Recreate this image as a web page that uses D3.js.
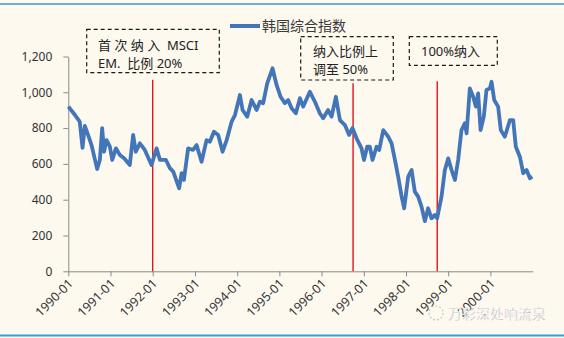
<!DOCTYPE html>
<html>
<head>
<meta charset="utf-8">
<script src="https://cdn.jsdelivr.net/npm/d3@7/dist/d3.min.js"></script>
<style>
  html, body { margin: 0; padding: 0; background: #fdf9ef; }
  svg { display: block; }
  text { font-family: "Noto Sans", "Noto Sans CJK SC", sans-serif; }
</style>
</head>
<body>
<svg id="chart" width="564" height="338"></svg>
<script>
// KOSPI composite index, 1990–2000
const seriesName = "韩国综合指数";
const dates = [
  "1990-01-02","1990-02-28","1990-04-10","1990-05-04","1990-05-24","1990-06-21","1990-07-21","1990-09-08",
  "1990-10-01","1990-10-21","1990-11-07","1990-11-28","1990-12-27","1991-01-16","1991-02-17","1991-03-23",
  "1991-04-29","1991-06-17","1991-07-16","1991-08-08","1991-09-12","1991-10-25","1991-12-22","1992-02-04",
  "1992-03-04","1992-04-25","1992-05-29","1992-06-27","1992-08-17","1992-09-07","1992-09-27","1992-11-03",
  "1992-12-16","1993-01-15","1993-02-27","1993-04-11","1993-05-10","1993-06-14","1993-07-21","1993-08-28",
  "1993-10-02","1993-11-14","1993-12-13","1994-01-25","1994-02-17","1994-03-29","1994-05-06","1994-06-18",
  "1994-07-17","1994-08-14","1994-09-18","1994-11-03","1994-12-08","1995-01-12","1995-02-18","1995-03-18",
  "1995-04-17","1995-05-24","1995-06-28","1995-07-26","1995-09-22","1995-11-04","1995-12-17","1996-01-15",
  "1996-02-27","1996-03-28","1996-05-04","1996-06-08","1996-07-21","1996-08-27","1996-09-25","1996-10-30",
  "1996-12-12","1997-01-02","1997-01-30","1997-02-22","1997-03-17","1997-04-21","1997-05-14","1997-06-18",
  "1997-07-31","1997-08-29","1997-09-27","1997-10-25","1997-11-24","1997-12-16","1998-01-20","1998-02-18",
  "1998-03-18","1998-04-16","1998-05-15","1998-06-13","1998-07-11","1998-08-10","1998-09-08","1998-09-27",
  "1998-11-04","1998-12-03","1999-01-01","1999-01-30","1999-02-28","1999-03-28","1999-04-26","1999-05-25",
  "1999-06-09","1999-07-07","1999-08-05","1999-08-28","1999-09-17","1999-10-08","1999-11-05","1999-11-28",
  "1999-12-27","2000-01-11","2000-02-03","2000-03-08","2000-03-31","2000-05-05","2000-06-18","2000-07-16",
  "2000-08-08","2000-09-12","2000-10-11","2000-11-09","2000-12-08","2000-12-28"
];
const values = [
  920, 873, 836, 690, 812, 762, 705, 571,
  622, 800, 668, 733, 696, 622, 687, 650,
  631, 594, 762, 668, 715, 678, 594, 687,
  622, 622, 576, 557, 464, 548, 510, 687,
  678, 705, 612, 733, 724, 780, 762, 668,
  733, 836, 873, 985, 901, 864, 957, 901,
  948, 939, 1050, 1134, 1041, 975, 939, 957,
  911, 883, 967, 920, 1003, 948, 883, 855,
  901, 864, 975, 845, 817, 762, 800, 743,
  687, 622, 696, 696, 622, 696, 678, 789,
  752, 715, 622, 529, 417, 352, 529, 566,
  445, 417, 361, 280, 352, 296, 315, 296,
  417, 566, 631, 566, 510, 622, 789, 827,
  771, 1022, 975, 920, 994, 789, 864, 1013,
  1022, 1059, 957, 920, 789, 752, 845, 845,
  696, 640, 548, 566, 520, 529
];

// x-axis tick labels and y-axis ticks
const xTickLabels = ["1990-01","1991-01","1992-01","1993-01","1994-01","1995-01",
                     "1996-01","1997-01","1998-01","1999-01","2000-01"];
const yTicks = [0, 200, 400, 600, 800, 1000, 1200];

// MSCI EM inclusion events: date, height of the marker line, note lines
const eventDates = ["1992-01-01", "1996-09-30", "1998-09-28"];
const eventTops = [1070, 1050, 1062];
const eventNotes = [
  ["首 次 纳 入  MSCI", "EM.  比例 20%"],
  ["纳入比例上", "调至 50%"],
  ["100%纳入"]
];

const parse = d3.timeParse("%Y-%m-%d");
const series = dates.map((d, i) => ({ date: parse(d), value: values[i] }));

const svg = d3.select("#chart");
const W = 564, H = 338;
const plotLeft = 68.3, plotRight = 532.7, plotTop = 56.5, plotBottom = 271.3;

const x = d3.scaleTime()
  .domain([parse("1990-01-01"), parse("2001-01-01")])
  .range([plotLeft, plotRight]);
const y = d3.scaleLinear().domain([0, 1200]).range([plotBottom, plotTop]);

// background and page rules
svg.append("rect").attr("width", W).attr("height", H).attr("fill", "#fdf9ef");
svg.append("line").attr("x1", 0).attr("x2", W).attr("y1", 4).attr("y2", 4)
  .attr("stroke", "#3b93d3").attr("stroke-width", 1.5);
svg.append("line").attr("x1", 0).attr("x2", W).attr("y1", 335.5).attr("y2", 335.5)
  .attr("stroke", "#2ea3d8").attr("stroke-width", 2);

// y axis
const yAxis = d3.axisLeft(y).tickValues(yTicks).tickFormat(d3.format(","))
  .tickSize(5).tickSizeOuter(0).tickPadding(11);
const gy = svg.append("g").attr("transform", `translate(${plotLeft},0)`).call(yAxis);
gy.select(".domain").attr("stroke", "#8a8a8a");
gy.selectAll(".tick line").attr("stroke", "#8a8a8a");
gy.selectAll(".tick text").attr("font-size", 12).attr("fill", "#333")
  .attr("font-family", "'Noto Sans', sans-serif");

// x axis
const xTickDates = xTickLabels.map(s => parse(s + "-01"));
const xAxis = d3.axisBottom(x).tickValues(xTickDates)
  .tickFormat((d, i) => xTickLabels[i]).tickSize(5).tickSizeOuter(0);
const gx = svg.append("g").attr("transform", `translate(0,${plotBottom})`).call(xAxis);
gx.select(".domain").attr("stroke", "#8a8a8a");
gx.selectAll(".tick line").attr("stroke", "#8a8a8a");
gx.selectAll(".tick text")
  .attr("font-size", 12.5).attr("fill", "#333")
  .attr("font-family", "'Noto Sans', sans-serif")
  .attr("text-anchor", "end")
  .attr("dy", null).attr("y", 0)
  .attr("transform", "translate(5,13) rotate(-45)");

// event marker lines
const events = eventDates.map((d, i) => ({ date: parse(d), top: eventTops[i], notes: eventNotes[i] }));
svg.selectAll(".event").data(events).join("line")
  .attr("class", "event")
  .attr("x1", d => x(d.date)).attr("x2", d => x(d.date))
  .attr("y1", d => y(d.top)).attr("y2", y(0))
  .attr("stroke", "#e2131b").attr("stroke-width", 1.4);

// index line
const line = d3.line().x(d => x(d.date)).y(d => y(d.value)).curve(d3.curveLinear);
svg.append("path").datum(series)
  .attr("d", line)
  .attr("fill", "none")
  .attr("stroke", "#4376b9")
  .attr("stroke-width", 3.8)
  .attr("stroke-linejoin", "round");

// legend
svg.append("line").attr("x1", 230).attr("x2", 260).attr("y1", 26).attr("y2", 26)
  .attr("stroke", "#4376b9").attr("stroke-width", 4);
svg.append("text").attr("x", 262).attr("y", 31)
  .attr("font-size", 14).attr("fill", "#3a3a3a")
  .attr("font-family", "'Noto Sans CJK SC', sans-serif")
  .text(seriesName);

// dashed note boxes
const boxes = [
  { x: 86.7, y: 29.3, w: 132.6, h: 43.4, tx: 98, ty: [50, 68] },
  { x: 300.7, y: 36.7, w: 92.6, h: 43.3, tx: 313, ty: [56, 74] },
  { x: 409.3, y: 36.7, w: 88, h: 28.6, tx: 421, ty: [56] }
];
boxes.forEach((b, i) => {
  svg.append("rect").attr("x", b.x).attr("y", b.y).attr("width", b.w).attr("height", b.h)
    .attr("fill", "none").attr("stroke", "#1a1a1a").attr("stroke-width", 1.2)
    .attr("stroke-dasharray", "4,3");
  events[i].notes.forEach((t, j) => {
    svg.append("text").attr("x", b.tx).attr("y", b.ty[j])
      .attr("font-size", 13).attr("fill", "#222")
      .attr("font-family", "'Noto Sans', 'Noto Sans CJK SC', sans-serif")
      .style("white-space", "pre")
      .text(t);
  });
});

// account mark in the lower right
svg.append("circle").attr("cx", 436).attr("cy", 313).attr("r", 7)
  .attr("fill", "none").attr("stroke", "#c8c8c8").attr("stroke-width", 1.2)
  .attr("stroke-dasharray", "2,2");
svg.append("text").attr("x", 448).attr("y", 318.5)
  .attr("font-size", 14).attr("fill", "#b0b0b0")
  .attr("stroke", "#ffffff").attr("stroke-width", 0.4)
  .attr("font-family", "'Noto Sans CJK SC', sans-serif")
  .text("万彩深处响流泉");
</script>
</body>
</html>
